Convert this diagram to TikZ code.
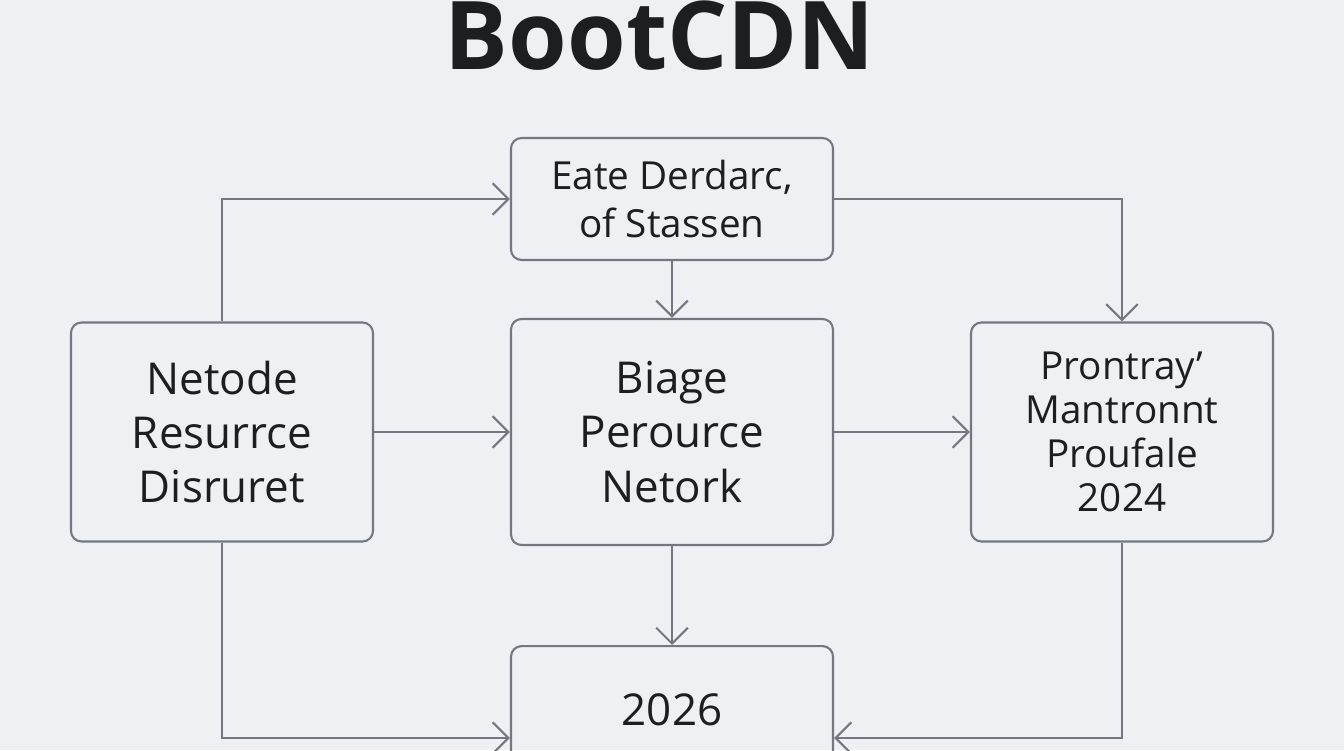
\documentclass[tikz,border=0pt]{standalone}
\usepackage{fontspec}
\setmainfont{Open Sans}
\usetikzlibrary{positioning,arrows.meta}
\definecolor{bgc}{HTML}{EEF0F4}
\definecolor{linec}{HTML}{737880}
\definecolor{txtc}{HTML}{1C1E22}
\tikzset{
  box/.style={draw=linec, line width=1.2pt, rounded corners=6pt, align=center,
    text=txtc, inner sep=0pt},
  link/.style={draw=linec, line width=1.2pt, -{Straight Barb[length=9pt,width=18pt]}},
}
\begin{document}
\begin{tikzpicture}[x=0.02cm,y=-0.02cm]
  \fill[bgc] (0,0) rectangle (1344,750);
  \clip (0,0) rectangle (1344,750);
  \useasboundingbox (0,0) rectangle (1344,750);
  \node[text=txtc, font=\fontsize{54}{60}\selectfont\bfseries] (title) at (660,36) {BootCDN};
  % boxes
  \node[box, minimum width=322*0.02cm, minimum height=122*0.02cm,
    font=\fontsize{22}{27}\selectfont] (std) at (672,199) {Eate Derdarc,\\of Stassen};
  \node[box, minimum width=322*0.02cm, minimum height=226*0.02cm,
    font=\fontsize{25}{31}\selectfont] (net) at (672,432) {Biage\\Perource\\Netork};
  \node[box, minimum width=302*0.02cm, minimum height=219*0.02cm,
    font=\fontsize{25}{31}\selectfont] (res) at (222,432) {Netode\\Resurrce\\Disruret};
  \node[box, minimum width=302*0.02cm, minimum height=219*0.02cm,
    font=\fontsize{22}{25}\selectfont] (pro) at (1122,432) {Prontray'\\Mantronnt\\Proufale\\2024};
  \node[box, minimum width=322*0.02cm, minimum height=200*0.02cm, anchor=north] (yr) at (672,645) {};
  \node[text=txtc, font=\fontsize{25}{31}\selectfont] (yrtxt) at (672,710) {2026};
  % connectors
  \draw[link] (res.north) |- (std.west);
  \draw[link] (std.east) -| (pro.north);
  \draw[link] (std.south) -- (net.north);
  \draw[link] (res.east) -- (net.west);
  \draw[link] (net.east) -- (pro.west);
  \draw[link] (net.south) -- (yr.north);
  \draw[link] (res.south) |- ([yshift=-93*0.02cm]yr.north west);
  \draw[link] (pro.south) |- ([yshift=-93*0.02cm]yr.north east);
\end{tikzpicture}
\end{document}
